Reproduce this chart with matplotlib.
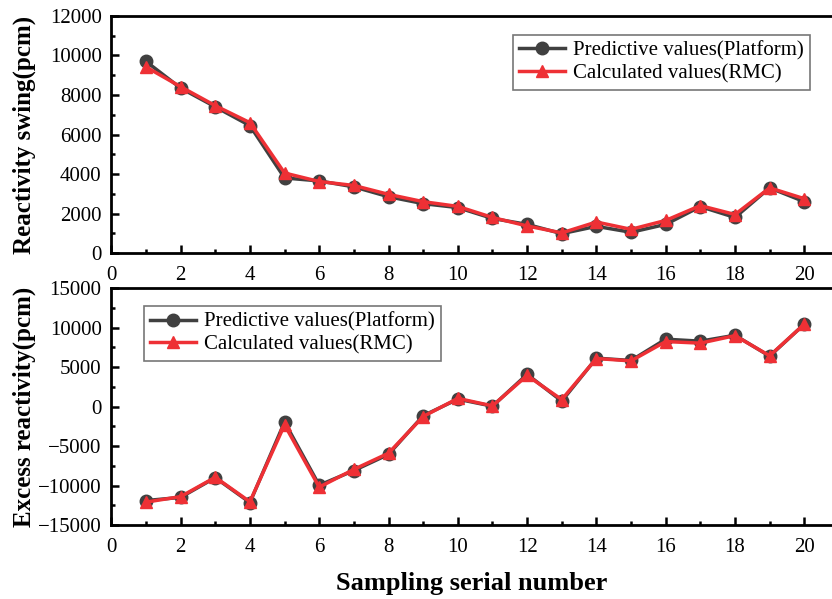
import matplotlib
matplotlib.use("Agg")
import matplotlib.pyplot as plt
from matplotlib.ticker import MultipleLocator

plt.rcParams['font.family'] = ['Liberation Serif', 'DejaVu Serif']

samples = list(range(1, 21))
swing_platform = [9700, 8350, 7400, 6450, 3800, 3650, 3350, 2850, 2500, 2300,
                  1750, 1450, 980, 1350, 1050, 1450, 2350, 1800, 3300, 2600]
swing_rmc = [9420, 8420, 7460, 6600, 4050, 3620, 3420, 2970, 2600, 2360,
             1800, 1370, 1020, 1570, 1200, 1650, 2400, 1950, 3300, 2750]
excess_platform = [-11900, -11500, -9000, -12150, -1950, -9950, -8100, -6050, -1150, 950,
                   60, 4100, 700, 6150, 5850, 8550, 8300, 9050, 6400, 10450]
excess_rmc = [-12100, -11400, -8950, -12050, -2300, -10200, -7950, -5900, -1250, 1050,
              100, 3950, 900, 6100, 5800, 8250, 8050, 9000, 6450, 10450]

label_p = "Predictive values(Platform)"
label_r = "Calculated values(RMC)"

fig = plt.figure(figsize=(8.32, 5.99), dpi=100)
ax1 = fig.add_axes([0.1338, 0.5776, 0.8662, 0.3957])
ax2 = fig.add_axes([0.1338, 0.1235, 0.8662, 0.3952])

gray = '#404040'
red = '#ee3035'

def style(ax, ylim, major, minor):
    ax.set_xlim(0, 20.8)
    ax.set_ylim(*ylim)
    ax.xaxis.set_major_locator(MultipleLocator(2))
    ax.xaxis.set_minor_locator(MultipleLocator(1))
    ax.yaxis.set_major_locator(MultipleLocator(major))
    ax.yaxis.set_minor_locator(MultipleLocator(minor))
    ax.tick_params(which='both', direction='in', top=False, right=False, width=1.8)
    ax.tick_params(which='major', length=6, labelsize=15)
    ax.tick_params(axis='x', which='major', pad=9)
    ax.tick_params(axis='y', which='major', pad=7)
    ax.tick_params(which='minor', length=3)
    ax.spines['right'].set_visible(False)
    for s in ['left', 'bottom', 'top']:
        ax.spines[s].set_linewidth(2)

for ax, yp, yr, ylim, major, minor, ylabel, anchor in [
    (ax1, swing_platform, swing_rmc, (0, 12000), 2000, 1000, 'Reactivity swing(pcm)',
     (0.557, 0.92)),
    (ax2, excess_platform, excess_rmc, (-15000, 15000), 5000, 2500, 'Excess reactivity(pcm)',
     (0.045, 0.925)),
]:
    ax.plot(samples, yp, '-o', color=gray, lw=2.5, ms=9, label=label_p, zorder=3)
    ax.plot(samples, yr, '-^', color=red, lw=2.5, ms=9, label=label_r, zorder=4)
    style(ax, ylim, major, minor)
    ax.set_ylabel(ylabel, fontsize=18, fontweight='bold')
    leg = ax.legend(loc='upper left', bbox_to_anchor=anchor, fontsize=15, frameon=True,
                    fancybox=False, edgecolor='#555555', borderpad=0.3,
                    handlelength=2.2, handletextpad=0.4, labelspacing=0.15,
                    borderaxespad=0, markerscale=1.0)
    leg.get_frame().set_linewidth(1.2)

ax1.yaxis.set_label_coords(-0.105, 0.5)
ax2.yaxis.set_label_coords(-0.105, 0.5)
ax2.set_xlabel('Sampling serial number', fontsize=19, fontweight='bold', labelpad=11)

fig.savefig('out.png', dpi=100)
